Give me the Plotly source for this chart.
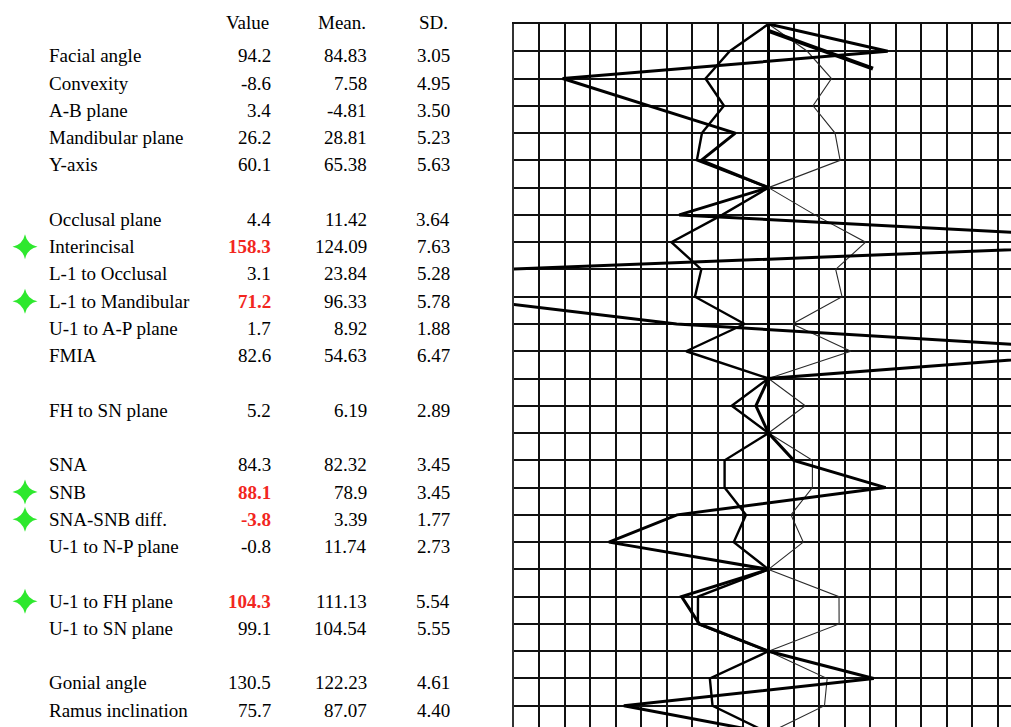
import plotly.graph_objects as go

W, H = 1011, 727

# Cephalometric measurements, top to bottom; "" marks a spacer row between groups
names = ["Facial angle", "Convexity", "A-B plane", "Mandibular plane", "Y-axis", "",
         "Occlusal plane", "Interincisal", "L-1 to Occlusal", "L-1 to Mandibular",
         "U-1 to A-P plane", "FMIA", "",
         "FH to SN plane", "",
         "SNA", "SNB", "SNA-SNB diff.", "U-1 to N-P plane", "",
         "U-1 to FH plane", "U-1 to SN plane", "",
         "Gonial angle", "Ramus inclination"]
values = ["94.2", "-8.6", "3.4", "26.2", "60.1", "",
          "4.4", "158.3", "3.1", "71.2", "1.7", "82.6", "",
          "5.2", "",
          "84.3", "88.1", "-3.8", "-0.8", "",
          "104.3", "99.1", "",
          "130.5", "75.7"]
means = ["84.83", "7.58", "-4.81", "28.81", "65.38", "",
         "11.42", "124.09", "23.84", "96.33", "8.92", "54.63", "",
         "6.19", "",
         "82.32", "78.9", "3.39", "11.74", "",
         "111.13", "104.54", "",
         "122.23", "87.07"]
sds = ["3.05", "4.95", "3.50", "5.23", "5.63", "",
       "3.64", "7.63", "5.28", "5.78", "1.88", "6.47", "",
       "2.89", "",
       "3.45", "3.45", "1.77", "2.73", "",
       "5.54", "5.55", "",
       "4.61", "4.40"]
flagged = ["Interincisal", "L-1 to Mandibular", "SNB", "SNA-SNB diff.", "U-1 to FH plane"]
headers = ["Value", "Mean.", "SD."]

# ---- geometry of the page (pixels) ----
GRID_LEFT, GRID_TOP = 514, 24
CELL_W, CELL_H = 25.45, 27.27      # one grid cell = 2 degrees across, one row down
DEG_PER_CELL = 2.0
CENTER_X = GRID_LEFT + 10 * CELL_W
x_min = -10 * DEG_PER_CELL
x_max = (W - CENTER_X) / CELL_W * DEG_PER_CELL
y_max = (H - GRID_TOP) / CELL_H
TEXT_DROP = 0.165                   # text sits a little below its row line

dev = [float(v) - float(m) if v else 0.0 for v, m in zip(values, means)]
sd = [float(s) if s else 0.0 for s in sds]


def row_track(offsets, skip=()):
    """Polyline through every row; spacer rows and both ends return to the centre."""
    xs, ys = [0.0], [0]
    for i, name in enumerate(names):
        k = i + 1
        if name == "":
            xs.append(0.0)
            ys.append(k)
        elif name in skip:
            continue
        else:
            xs.append(offsets[i])
            ys.append(k)
    xs.append(0.0)
    ys.append(len(names) + 1)
    return xs, ys


fig = go.Figure()

hi_x, hi_y = row_track(sd)
lo_x, lo_y = row_track([-s for s in sd])
pt_x, pt_y = row_track(dev, skip=("A-B plane",))

fig.add_trace(go.Scatter(x=hi_x, y=hi_y, mode="lines",
                         line=dict(color="#2a2a2a", width=1.1), hoverinfo="skip"))
fig.add_trace(go.Scatter(x=lo_x, y=lo_y, mode="lines",
                         line=dict(color="#000000", width=2.4), hoverinfo="skip"))
fig.add_trace(go.Scatter(x=pt_x, y=pt_y, mode="lines",
                         line=dict(color="#000000", width=3), hoverinfo="skip"))

# A-B plane reading is drawn as its own stroke from the top of the centre line
ab = names.index("A-B plane")
fig.add_trace(go.Scatter(x=[0.0, dev[ab]], y=[0.25, 1.64], mode="lines",
                         line=dict(color="#000000", width=4), hoverinfo="skip"))


def sparkle(cx_px, row, r=12.5, pinch=2.2):
    """Four-pointed flag outline in table pixels (x) and row units (y)."""
    def p(dx, dy):
        return f"{cx_px + dx:.2f},{row + dy / CELL_H:.4f}"
    return (f"M{p(-r, 0)} Q{p(-pinch, -pinch)} {p(0, -r)} "
            f"Q{p(pinch, -pinch)} {p(r, 0)} "
            f"Q{p(pinch, pinch)} {p(0, r)} "
            f"Q{p(-pinch, pinch)} {p(-r, 0)} Z")


shapes = []
for n in flagged:
    row = names.index(n) + 1 + TEXT_DROP
    shapes.append(dict(type="path", path=sparkle(25, row), xref="x2", yref="y2",
                       fillcolor="#2ee82e", line=dict(width=0), layer="above"))

FONT = "Liberation Serif"
FS = 19
ann = []
col_right = [273, 369, 452]
head_center = [247, 342, 433]
for txt, cx in zip(headers, head_center):
    ann.append(dict(text=txt, x=cx / W, y=1 - 22 / H, xref="paper", yref="paper",
                    xanchor="center", yanchor="middle", showarrow=False,
                    font=dict(family=FONT, size=FS, color="#000")))
for i, name in enumerate(names):
    if not name:
        continue
    k = i + 1
    red = name in flagged
    ann.append(dict(text=name, x=47 / W, y=k + TEXT_DROP, xref="paper", yref="y",
                    xanchor="left", yanchor="middle", showarrow=False,
                    font=dict(family=FONT, size=FS, color="#000")))
    vtxt = f"<b>{values[i]}</b>" if red else values[i]
    for txt, cx, color in ((vtxt, col_right[0], "#f2261e" if red else "#000"),
                           (means[i], col_right[1], "#000"),
                           (sds[i], col_right[2], "#000")):
        ann.append(dict(text=txt, x=cx / W, y=k + TEXT_DROP, xref="paper", yref="y",
                        xanchor="right", yanchor="middle", showarrow=False,
                        font=dict(family=FONT, size=FS, color=color)))

grid_color = "#111111"
fig.update_layout(
    width=W, height=H,
    margin=dict(l=0, r=0, t=0, b=0, pad=0),
    paper_bgcolor="white", plot_bgcolor="white",
    showlegend=False,
    annotations=ann,
    shapes=shapes,
    xaxis=dict(domain=[GRID_LEFT / W, 1], range=[x_min, x_max], tick0=0, dtick=DEG_PER_CELL,
               showgrid=True, gridcolor=grid_color, gridwidth=1.5,
               zeroline=True, zerolinecolor="#000", zerolinewidth=2.8,
               showline=True, linecolor=grid_color, linewidth=1.6, side="top",
               showticklabels=False, ticks="", fixedrange=True),
    yaxis=dict(domain=[0, 1 - GRID_TOP / H], range=[y_max, 0], tick0=0, dtick=1,
               showgrid=True, gridcolor=grid_color, gridwidth=1.5,
               zeroline=False, showline=True, linecolor="#333", linewidth=2.2,
               showticklabels=False, ticks="", fixedrange=True),
    xaxis2=dict(domain=[0, 0.5], range=[0, 0.5 * W], visible=False, anchor="y2"),
    yaxis2=dict(domain=[0, 1 - GRID_TOP / H], range=[y_max, 0], visible=False, anchor="x2"),
)

fig.write_html("out.html")
